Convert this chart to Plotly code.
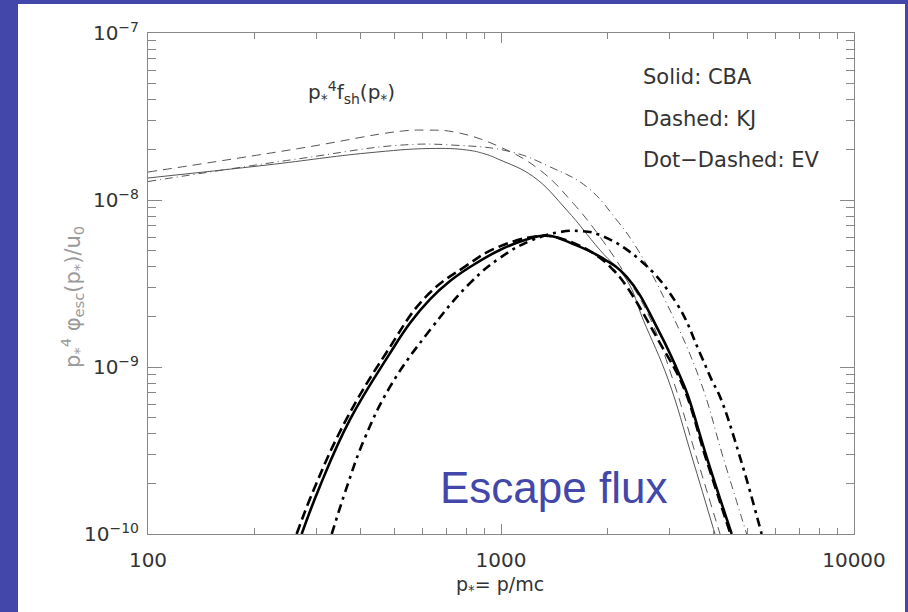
import plotly.graph_objects as go

# ---- data ----
# escape flux p*^4 phi_esc / u0  (thick curves)
cba_esc_x = [272.5, 306.5, 373, 485, 552.5, 630, 717, 817, 993, 1169.5, 1350, 1600, 1906, 2270,
             2821, 3251, 3393, 3825, 4503]
cba_esc_y = [1.0e-10, 1.92e-10, 4.82e-10, 1.21e-9, 1.835e-9, 2.55e-9, 3.27e-9, 3.97e-9, 5.02e-9,
             5.76e-9, 6.13e-9, 5.45e-9, 4.58e-9, 3.47e-9, 1.59e-9, 8.35e-10, 6.64e-10, 2.89e-10, 1.0e-10]

kj_esc_x = [263.7, 297.2, 363.9, 472.4, 613, 796, 974, 1290, 1469, 1826, 2080, 2270, 2821, 3284, 3796, 4467]
kj_esc_y = [1.0e-10, 1.92e-10, 4.82e-10, 1.21e-9, 2.64e-9, 4.03e-9, 5.19e-9, 6.09e-9, 5.90e-9,
            4.80e-9, 3.81e-9, 3.03e-9, 1.39e-9, 7.62e-10, 2.89e-10, 1.0e-10]

ev_esc_x = [331.5, 366.1, 409.2, 485, 630, 817, 993, 1208, 1469, 1674, 1906, 2476, 3146, 3662, 3954,
            4173, 4753, 5475]
ev_esc_y = [1.0e-10, 1.92e-10, 3.66e-10, 7.62e-10, 1.67e-9, 3.18e-9, 4.50e-9, 5.68e-9, 6.43e-9,
            6.52e-9, 6.17e-9, 4.37e-9, 2.40e-9, 1.21e-9, 8.35e-10, 6.64e-10, 2.89e-10, 1.0e-10]

# shock distribution p*^4 f_sh (thin curves)
cba_sh_x = [100, 217.4, 417.3, 629.6, 799.5, 901, 993, 1235, 1535, 1906, 2270, 2530, 2979, 3475, 4038]
cba_sh_y = [1.355e-8, 1.62e-8, 1.912e-8, 2.034e-8, 1.993e-8, 1.886e-8, 1.74e-8, 1.38e-8, 8.71e-9,
            5.02e-9, 3.32e-9, 1.91e-9, 8.35e-10, 2.89e-10, 1.0e-10]

kj_sh_x = [100, 269.5, 518, 609, 741, 993, 1290, 1602, 1906, 2270, 2643, 3072, 3579, 4173]
kj_sh_y = [1.47e-8, 2.04e-8, 2.58e-8, 2.62e-8, 2.55e-8, 2.08e-8, 1.51e-8, 9.55e-9, 6.03e-9, 3.47e-9,
           1.96e-9, 8.35e-10, 2.89e-10, 1.0e-10]

ev_sh_x = [100, 269.5, 518, 736, 1061, 1376, 1749, 2127, 2443, 2915, 3662, 4256, 4966]
ev_sh_y = [1.29e-8, 1.77e-8, 2.13e-8, 2.13e-8, 1.95e-8, 1.58e-8, 1.20e-8, 7.59e-9, 5.02e-9,
           2.52e-9, 8.35e-10, 2.89e-10, 1.0e-10]

x_ticks = [100, 1000, 10000]
x_tick_labels = ["100", "1000", "10000"]
y_ticks = [1e-10, 1e-9, 1e-8, 1e-7]
y_tick_labels = ["10<sup>−10</sup>", "10<sup>−9</sup>", "10<sup>−8</sup>", "10<sup>−7</sup>"]
x_minor = [m * d for d in (100, 1000) for m in range(2, 10)]
y_minor = [m * d for d in (1e-10, 1e-9, 1e-8) for m in range(2, 10)]

legend_lines = ["Solid: CBA", "Dashed: KJ", "Dot−Dashed: EV"]

BLUE = "#4447AA"
FONT = "DejaVu Sans"
TXT = "#333333"
AX = "#888888"

fig = go.Figure()

thin = dict(color="#555555", width=1)
sm = 1.2
fig.add_trace(go.Scatter(x=cba_sh_x, y=cba_sh_y, mode="lines", line=dict(**thin, dash="solid", shape="spline", smoothing=sm), name="CBA f_sh"))
fig.add_trace(go.Scatter(x=kj_sh_x, y=kj_sh_y, mode="lines", line=dict(**thin, dash="9px,6px", shape="spline", smoothing=sm), name="KJ f_sh"))
fig.add_trace(go.Scatter(x=ev_sh_x, y=ev_sh_y, mode="lines", line=dict(**thin, dash="8px,4px,1px,4px", shape="spline", smoothing=sm), name="EV f_sh"))

thick = dict(color="black", width=2.6)
fig.add_trace(go.Scatter(x=cba_esc_x, y=cba_esc_y, mode="lines", line=dict(**thick, dash="solid", shape="spline", smoothing=sm), name="CBA esc"))
fig.add_trace(go.Scatter(x=kj_esc_x, y=kj_esc_y, mode="lines", line=dict(**thick, dash="10px,5px", shape="spline", smoothing=sm), name="KJ esc"))
fig.add_trace(go.Scatter(x=ev_esc_x, y=ev_esc_y, mode="lines", line=dict(**thick, dash="9px,5px,3px,5px", shape="spline", smoothing=sm), name="EV esc"))

PL, PR, PT, PB = 148, 854, 33, 534
W, H = 908, 612
pw, ph = PR - PL, PB - PT


def px(xp):
    return (xp - PL) / pw


def py(yp):
    return (PB - yp) / ph


annotations = []
for txt, yp in zip(legend_lines, [77, 119, 160]):
    annotations.append(dict(x=px(641), y=py(yp), xref="paper", yref="paper", text=txt,
                            showarrow=False, xanchor="left", yanchor="middle",
                            font=dict(family=FONT, size=21, color=TXT)))
annotations.append(dict(x=px(306), y=py(93), xref="paper", yref="paper",
                        text="p<sub>*</sub><sup>4</sup>f<sub>sh</sub>(p<sub>*</sub>)",
                        showarrow=False, xanchor="left", yanchor="middle",
                        font=dict(family=FONT, size=20, color=TXT)))
annotations.append(dict(x=px(553), y=py(487), xref="paper", yref="paper", text="Escape flux",
                        showarrow=False, xanchor="center", yanchor="middle",
                        font=dict(family="Liberation Sans", size=44, color=BLUE)))
annotations.append(dict(x=px(72), y=py(297), xref="paper", yref="paper",
                        text="p<sub>*</sub><sup>4</sup> φ<sub>esc</sub>(p<sub>*</sub>)/u<sub>0</sub>",
                        showarrow=False, textangle=-90, xanchor="center", yanchor="middle",
                        font=dict(family=FONT, size=21, color="#9a9a9a")))
annotations.append(dict(x=px(500), y=py(585), xref="paper", yref="paper",
                        text="p<sub>*</sub>= p/mc",
                        showarrow=False, xanchor="center", yanchor="middle",
                        font=dict(family=FONT, size=19, color=TXT)))

fig.update_layout(
    width=W, height=H, autosize=False,
    margin=dict(l=PL, r=W - PR, t=PT, b=H - PB, pad=0),
    paper_bgcolor=BLUE, plot_bgcolor="white",
    showlegend=False,
    annotations=annotations,
    shapes=[dict(type="rect", xref="paper", yref="paper",
                 x0=px(18), x1=px(905), y0=py(640), y1=py(4),
                 fillcolor="white", line=dict(width=0), layer="below")],
)

fig.update_xaxes(type="log", range=[2, 4], tickvals=x_ticks, ticktext=x_tick_labels,
                 ticks="inside", ticklen=10, tickwidth=1, tickcolor=AX,
                 showline=True, linecolor=AX, linewidth=1, mirror="ticks",
                 showgrid=False, zeroline=False, ticklabelstandoff=8,
                 tickfont=dict(family=FONT, size=20, color=TXT),
                 minor=dict(tickvals=x_minor, ticks="inside", ticklen=6, tickcolor=AX, showgrid=False))
fig.update_yaxes(type="log", range=[-10, -7], tickvals=y_ticks, ticktext=y_tick_labels,
                 ticks="inside", ticklen=14, tickwidth=1, tickcolor=AX,
                 showline=True, linecolor=AX, linewidth=1, mirror="ticks",
                 showgrid=False, zeroline=False, ticklabelstandoff=4,
                 tickfont=dict(family=FONT, size=20, color=TXT),
                 minor=dict(tickvals=y_minor, ticks="inside", ticklen=8, tickcolor=AX, showgrid=False))

fig.write_html("out.html", config={"displayModeBar": False},
               post_script="document.body.style.margin='0';document.body.style.overflow='hidden';")
